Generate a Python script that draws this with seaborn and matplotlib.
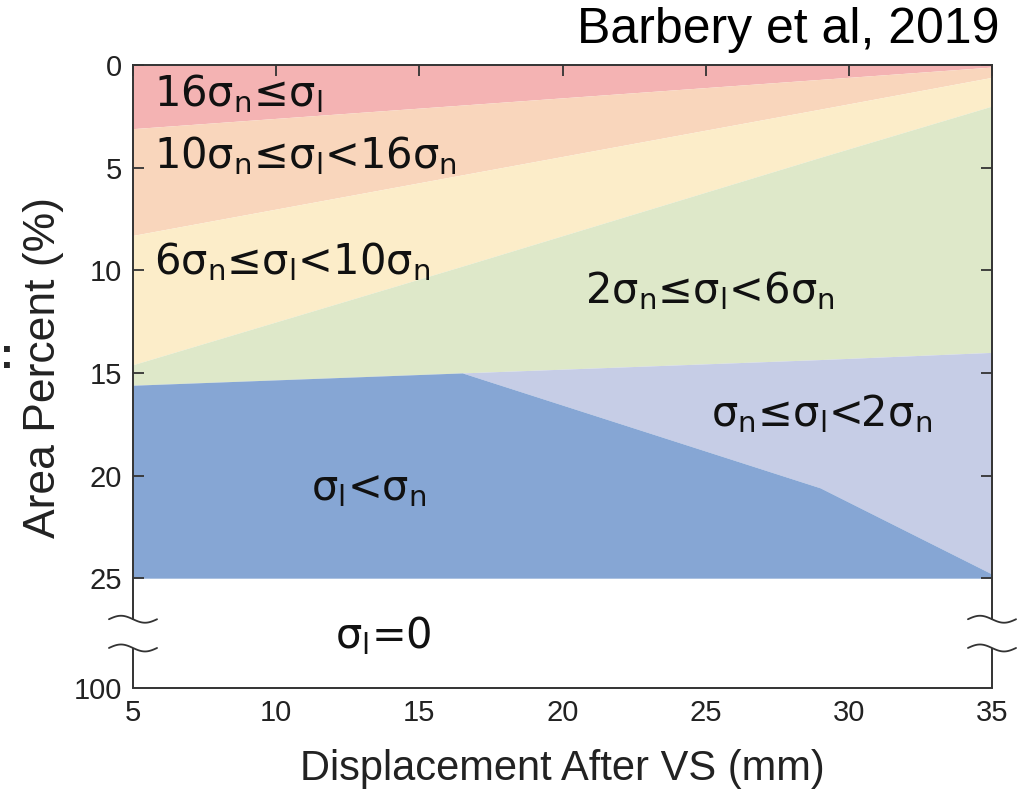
import numpy as np
import matplotlib
matplotlib.use("Agg")
import matplotlib.pyplot as plt
import seaborn as sns

# ---------------- data ----------------
x_pts = [5, 16.5, 29, 35]                 # displacement after VS (mm)
red_bottom    = [3.1, 1.95, 0.7, 0.1]      # 16σn ≤ σl  (from 0 down to this)
orange_bottom = [8.3, 5.35, 2.15, 0.6]     # 10σn ≤ σl < 16σn
yellow_bottom = [14.6, 9.8, 4.5, 2.0]      # 6σn ≤ σl < 10σn
green_bottom  = [15.6, 15.0, 14.35, 14.0]  # 2σn ≤ σl < 6σn
lav_bottom    = [15.6, 15.0, 20.6, 24.8]   # σn ≤ σl < 2σn
blue_bottom   = [25, 25, 25, 25]           # σl < σn

y_ticks = [0, 5, 10, 15, 20, 25, 30.35]
y_ticklabels = ["0", "5", "10", "15", "20", "25", "100"]
x_ticks = [5, 10, 15, 20, 25, 30, 35]

colors = ["#F4B3B3", "#F9D6BC", "#FCEDC9", "#DEE8C9", "#C6CDE6", "#86A6D4"]
labels = ["16σ$_n$≤σ$_l$", "10σ$_n$≤σ$_l$<16σ$_n$", "6σ$_n$≤σ$_l$<10σ$_n$",
          "2σ$_n$≤σ$_l$<6σ$_n$", "σ$_n$≤σ$_l$<2σ$_n$", "σ$_l$<σ$_n$", "σ$_l$=0"]
label_pos = [(5.75, 1.4), (5.75, 4.4), (5.75, 9.6), (20.8, 11.0),
             (25.2, 17.0), (11.2, 20.6), (12.05, 27.8)]

# ---------------- style ----------------
sns.set_theme(style="ticks")
plt.rcParams["font.family"] = ["Liberation Sans", "DejaVu Sans"]
plt.rcParams["mathtext.fontset"] = "custom"
plt.rcParams["mathtext.rm"] = "DejaVu Sans"
plt.rcParams["mathtext.it"] = "DejaVu Sans"
plt.rcParams["mathtext.default"] = "regular"

fig = plt.figure(figsize=(10.21, 7.93), dpi=100)
ax = fig.add_axes([133 / 1021, 1 - 688 / 793, 859 / 1021, 623 / 793])

bounds = [[0, 0, 0, 0], red_bottom, orange_bottom, yellow_bottom,
          green_bottom, lav_bottom, blue_bottom]
for i, c in enumerate(colors):
    ax.fill_between(x_pts, bounds[i], bounds[i + 1], color=c, lw=0, zorder=0.5)
sns.lineplot(x=x_pts, y=blue_bottom, ax=ax, lw=0, color=colors[-1])

ax.set_xlim(5, 35)
ax.set_ylim(30.35, 0)
ax.set_xticks(x_ticks)
ax.set_yticks(y_ticks)
ax.set_yticklabels(y_ticklabels)

spine_c = "#333333"
for s in ax.spines.values():
    s.set_color(spine_c)
    s.set_linewidth(1.4)
ax.spines["left"].set_bounds(0, 27.0)
ax.spines["right"].set_bounds(0, 27.0)

ytr = ax.get_yaxis_transform()
for xa in (0, 1):
    ax.plot([xa, xa], [28.4, 30.35], transform=ytr, color=spine_c, lw=1.4,
            clip_on=False, solid_capstyle="butt")
    t = np.linspace(0, 1, 40)
    for y0 in (27.0, 28.4):
        ax.plot(xa - 0.028 + 0.056 * t, y0 - 0.17 * np.sin(2 * np.pi * t),
                transform=ytr, color=spine_c, lw=1.3, clip_on=False)

ax.tick_params(axis="both", which="both", direction="in", colors=spine_c,
               labelcolor="#222222", labelsize=21, length=8, width=1.3)
ax.tick_params(axis="x", top=True, bottom=False, pad=8)
ax.tick_params(axis="y", left=True, right=True, pad=8)
# no tick marks at the "100" position
ax.yaxis.get_major_ticks()[-1].tick2line.set_visible(False)
ax.yaxis.get_major_ticks()[-1].tick1line.set_visible(False)

ax.set_xlabel("Displacement After VS (mm)", fontsize=30, color="#222222")
ax.xaxis.set_label_coords(0.5, -0.13)
ax.xaxis.label.set_va("center")
ax.set_ylabel("Area Percent (%)", fontsize=32, color="#222222")
ax.yaxis.set_label_coords(-0.104, 0.515)
ax.yaxis.label.set_va("center")
ax.yaxis.label.set_ha("center")

for txt, (lx, ly) in zip(labels, label_pos):
    ax.text(lx, ly, txt, fontsize=30, color="#111111", ha="left", va="center",
            family="DejaVu Sans")

fig.text(0.979, 0.962, "Barbery et al, 2019", fontsize=36, ha="right",
         va="center", color="black")
fig.text(0.007, 0.55, ":", fontsize=30, weight="bold", ha="center", va="center")

fig.savefig("out.png", dpi=100)
